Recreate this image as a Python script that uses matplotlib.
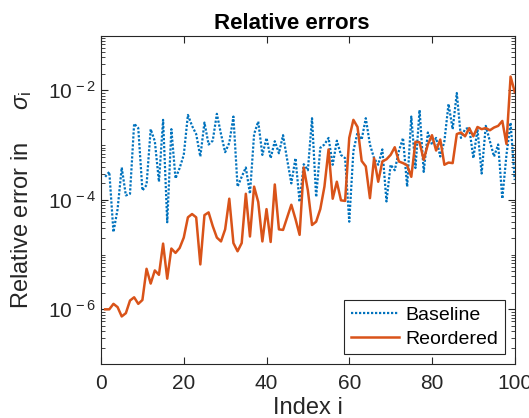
import numpy as np
import matplotlib
matplotlib.use("Agg")
import matplotlib.pyplot as plt
from matplotlib.ticker import LogLocator, FixedLocator, NullFormatter

plt.rcParams['font.family'] = ['Liberation Sans', 'DejaVu Sans']
plt.rcParams['mathtext.fontset'] = 'custom'
plt.rcParams['mathtext.rm'] = 'Liberation Sans'
plt.rcParams['mathtext.it'] = 'Liberation Sans:italic'

# log10 of relative errors
index = np.arange(1, 101)
baseline_log = [-3.58, -3.49, -4.59, -4.17, -3.41, -3.92, -3.89, -2.61, -2.69, -3.83,
                -3.73, -2.71, -2.93, -3.67, -2.54, -4.41, -2.71, -3.61, -3.42, -3.18,
                -2.45, -2.65, -2.80, -3.21, -2.59, -2.99, -2.92, -2.43, -2.80, -3.13,
                -2.96, -2.48, -3.76, -3.58, -3.41, -3.89, -2.80, -2.57, -3.18, -2.87,
                -3.24, -2.93, -3.15, -2.82, -3.27, -3.70, -3.24, -4.04, -3.35, -3.46,
                -2.51, -3.95, -3.05, -2.99, -2.87, -3.36, -2.92, -3.18, -3.24, -4.40,
                -3.11, -2.77, -2.90, -2.51, -2.99, -3.24, -3.36, -3.08, -4.03, -3.36,
                -3.46, -3.11, -2.87, -3.76, -2.48, -3.42, -2.36, -3.49, -2.77, -2.99,
                -2.87, -3.21, -2.93, -2.25, -2.71, -2.05, -2.87, -2.71, -2.68, -3.24,
                -2.71, -3.52, -2.65, -2.93, -3.21, -2.99, -3.98, -3.18, -2.59, -3.64]
reordered_log = [-6.00, -6.00, -5.90, -5.96, -6.13, -6.07, -5.84, -5.78, -5.90, -5.83,
                 -5.26, -5.53, -5.29, -5.37, -4.80, -5.44, -4.89, -4.97, -4.88, -4.69,
                 -4.32, -4.26, -4.32, -5.18, -4.28, -4.23, -4.48, -4.69, -4.76, -4.54,
                 -3.98, -4.79, -4.94, -4.79, -3.89, -4.67, -3.76, -4.04, -4.76, -4.17,
                 -4.77, -3.72, -4.54, -4.55, -4.32, -4.09, -4.35, -4.64, -3.41, -3.83,
                 -4.46, -4.40, -4.17, -3.76, -3.08, -3.98, -3.67, -4.01, -4.02, -2.87,
                 -2.54, -2.67, -3.29, -3.39, -3.97, -3.24, -3.67, -3.30, -3.26, -3.18,
                 -3.04, -3.30, -3.33, -3.37, -3.58, -2.94, -2.95, -3.27, -2.99, -2.82,
                 -3.10, -2.90, -3.36, -3.32, -3.33, -2.80, -2.77, -2.84, -2.69, -2.84,
                 -2.67, -2.71, -2.69, -2.73, -2.68, -2.65, -2.56, -2.98, -1.75, -2.03]

baseline = 10.0 ** np.array(baseline_log)
reordered = 10.0 ** np.array(reordered_log)

fig = plt.figure(figsize=(5.29, 4.18), dpi=100)
ax = fig.add_axes([0.191, 0.129, 0.782, 0.786])

ax.semilogy(index, baseline, linestyle=(0, (1, 0.8)), color='#0072BD', lw=1.6, label='Baseline')
ax.semilogy(index, reordered, '-', color='#D95319', lw=1.8, label='Reordered')

ax.set_xlim(0, 100)
ax.set_ylim(1e-7, 1e-1)
ax.set_xticks([0, 20, 40, 60, 80, 100])
ax.yaxis.set_major_locator(FixedLocator([1e-6, 1e-4, 1e-2]))
ax.yaxis.set_minor_locator(LogLocator(base=10, subs=np.arange(1, 10), numticks=20))
ax.yaxis.set_minor_formatter(NullFormatter())
ax.set_yticklabels([r'$10^{\,-6}$', r'$10^{\,-4}$', r'$10^{\,-2}$'])

dark = '#262626'
for s in ax.spines.values():
    s.set_color(dark)
    s.set_linewidth(0.8)
ax.tick_params(which='both', direction='in', top=True, right=True, colors=dark, labelsize=15)
ax.tick_params(which='major', length=5)
ax.tick_params(which='minor', length=3)
ax.tick_params(axis='x', pad=7)

ax.set_title('Relative errors', fontsize=16, fontweight='bold', pad=5, x=0.46)
ax.set_xlabel('Index i', fontsize=17, color=dark, labelpad=3)
ax.set_ylabel(r'Relative error in     $\sigma_{\rm i}$', fontsize=17, color=dark, labelpad=10)

leg = ax.legend(loc='lower right', fontsize=14, fancybox=False, framealpha=1,
                edgecolor=dark, handlelength=2.5, borderaxespad=0.5,
                borderpad=0.35, labelspacing=0.3, handletextpad=0.3)
leg.get_frame().set_linewidth(0.8)

fig.savefig('out.png', dpi=100)
